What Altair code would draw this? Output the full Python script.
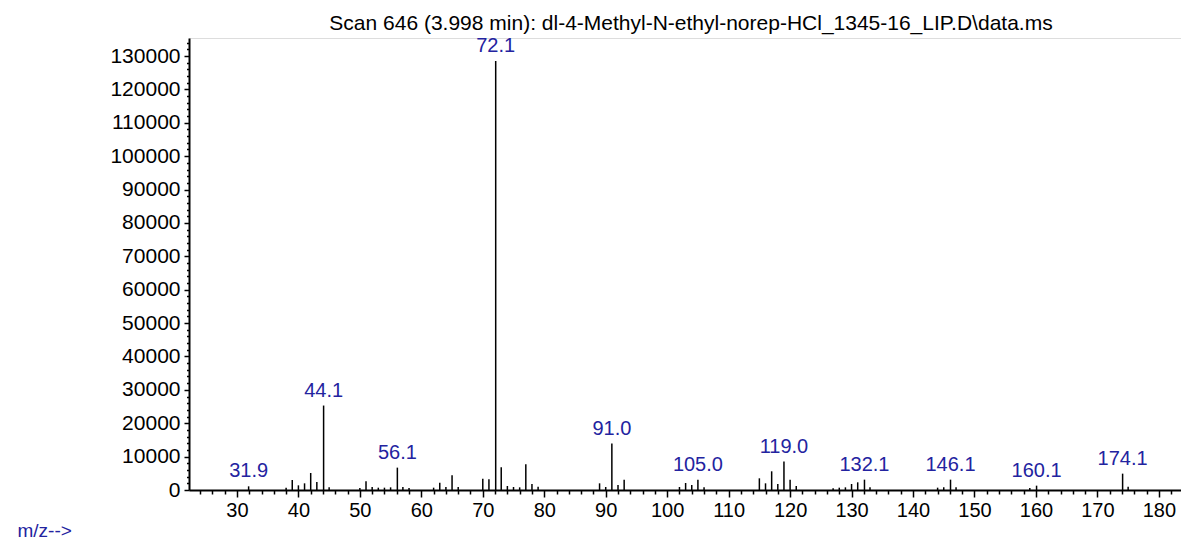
import altair as alt
import pandas as pd

# ---- data ----
peak_mz = [31.9, 38, 39, 40, 41, 42, 43, 44.1, 45, 50, 51, 52, 53, 54, 55, 56.1,
           57, 58, 62, 63, 64, 65, 66, 70, 71, 72.1, 73, 74, 75, 76, 77, 78, 79,
           89, 90, 91.0, 92, 93, 102, 103, 104, 105.0, 106, 115, 116, 117, 118,
           119.0, 120, 121, 127, 128, 129, 130, 131, 132.1, 133, 144, 145, 146.1,
           147, 159, 160.1, 174.1, 175]
peak_int = [1100, 700, 3000, 1400, 2000, 5100, 2400, 25300, 800, 600, 2600, 900, 700, 700, 800, 6700,
            900, 600, 700, 2200, 900, 4400, 900, 3400, 3200, 128500, 6800, 1200, 900, 800, 7700, 1800, 1000,
            2000, 900, 13900, 1500, 3100, 900, 2100, 1500, 3100, 800, 3500, 2000, 5600, 1800,
            8500, 3100, 1200, 500, 700, 800, 1800, 2300, 3100, 800, 700, 800, 3100,
            800, 600, 1300, 4900, 1000]
label_mz = [31.9, 44.1, 56.1, 72.1, 91.0, 105.0, 119.0, 132.1, 146.1, 160.1, 174.1]
label_text = ["31.9", "44.1", "56.1", "72.1", "91.0", "105.0", "119.0", "132.1", "146.1", "160.1", "174.1"]
x_ticks = list(range(22, 184, 2))
y_ticks = list(range(0, 134001, 2000))

title_text = "Scan 646 (3.998 min): dl-4-Methyl-N-ethyl-norep-HCl_1345-16_LIP.D\\data.ms"

peaks = pd.DataFrame({"mz": peak_mz, "intensity": peak_int})
lookup = dict(zip(peak_mz, peak_int))
labels = pd.DataFrame({"mz": label_mz, "text": label_text,
                       "intensity": [lookup[m] for m in label_mz]})

FONT = "Liberation Sans"
BLUE = "#2323a0"

x_scale = alt.Scale(domain=[22.2, 183.6], nice=False, zero=False)
y_scale = alt.Scale(domain=[0, 135400], nice=False)

x_axis = alt.Axis(
    values=x_ticks, tickCount=500, format="d",
    labelExpr="datum.value % 10 === 0 ? datum.label : ''",
    tickSize={"condition": {"test": "datum.value % 10 === 0", "value": 7}, "value": 4},
    tickWidth=1.5, tickColor="black", domainColor="black", domainWidth=2,
    labelFont=FONT, labelFontSize=20, labelColor="black", labelPadding=3,
    labelOverlap=False, labelFlush=False, grid=False,
    title="m/z-->", titleFont=FONT, titleFontSize=19, titleFontWeight="normal",
    titleColor=BLUE, titleX=-172, titleY=46, titleAlign="left",
    titleBaseline="alphabetic",
)
y_axis = alt.Axis(
    values=y_ticks, tickCount=500, format="d",
    labelExpr="datum.value % 10000 === 0 ? datum.label : ''",
    tickSize={"condition": {"test": "datum.value % 10000 === 0", "value": 5}, "value": 2.5},
    tickWidth=1.5, tickColor="black", domainColor="black", domainWidth=2,
    labelFont=FONT, labelFontSize=21, labelColor="black", labelPadding=4,
    labelOverlap=False, labelFlush=False, grid=False, title=None,
)

rules = alt.Chart(peaks).mark_rule(color="black", strokeWidth=1.5).encode(
    x=alt.X("mz:Q", scale=x_scale, axis=x_axis),
    y=alt.Y("intensity:Q", scale=y_scale, axis=y_axis),
    y2=alt.datum(0),
)

texts = alt.Chart(labels).mark_text(
    baseline="bottom", align="center", dy=-5, font=FONT, fontSize=20, color=BLUE
).encode(
    x=alt.X("mz:Q", scale=x_scale),
    y=alt.Y("intensity:Q", scale=y_scale),
    text="text:N",
)

chart = alt.layer(rules, texts).properties(
    width=992, height=452,
    title=alt.TitleParams(text=title_text, font=FONT, fontSize=21, fontWeight="normal",
                          color="black", anchor="middle", frame="group", offset=4,
                          dx=6, dy=6),
    autosize=alt.AutoSizeParams(type="none"),
    padding={"left": 181, "top": 30, "right": 0, "bottom": 52},
).configure_view(stroke=None).configure(background="white")

chart.save("out.html", embed_options={"renderer": "svg", "actions": False})
